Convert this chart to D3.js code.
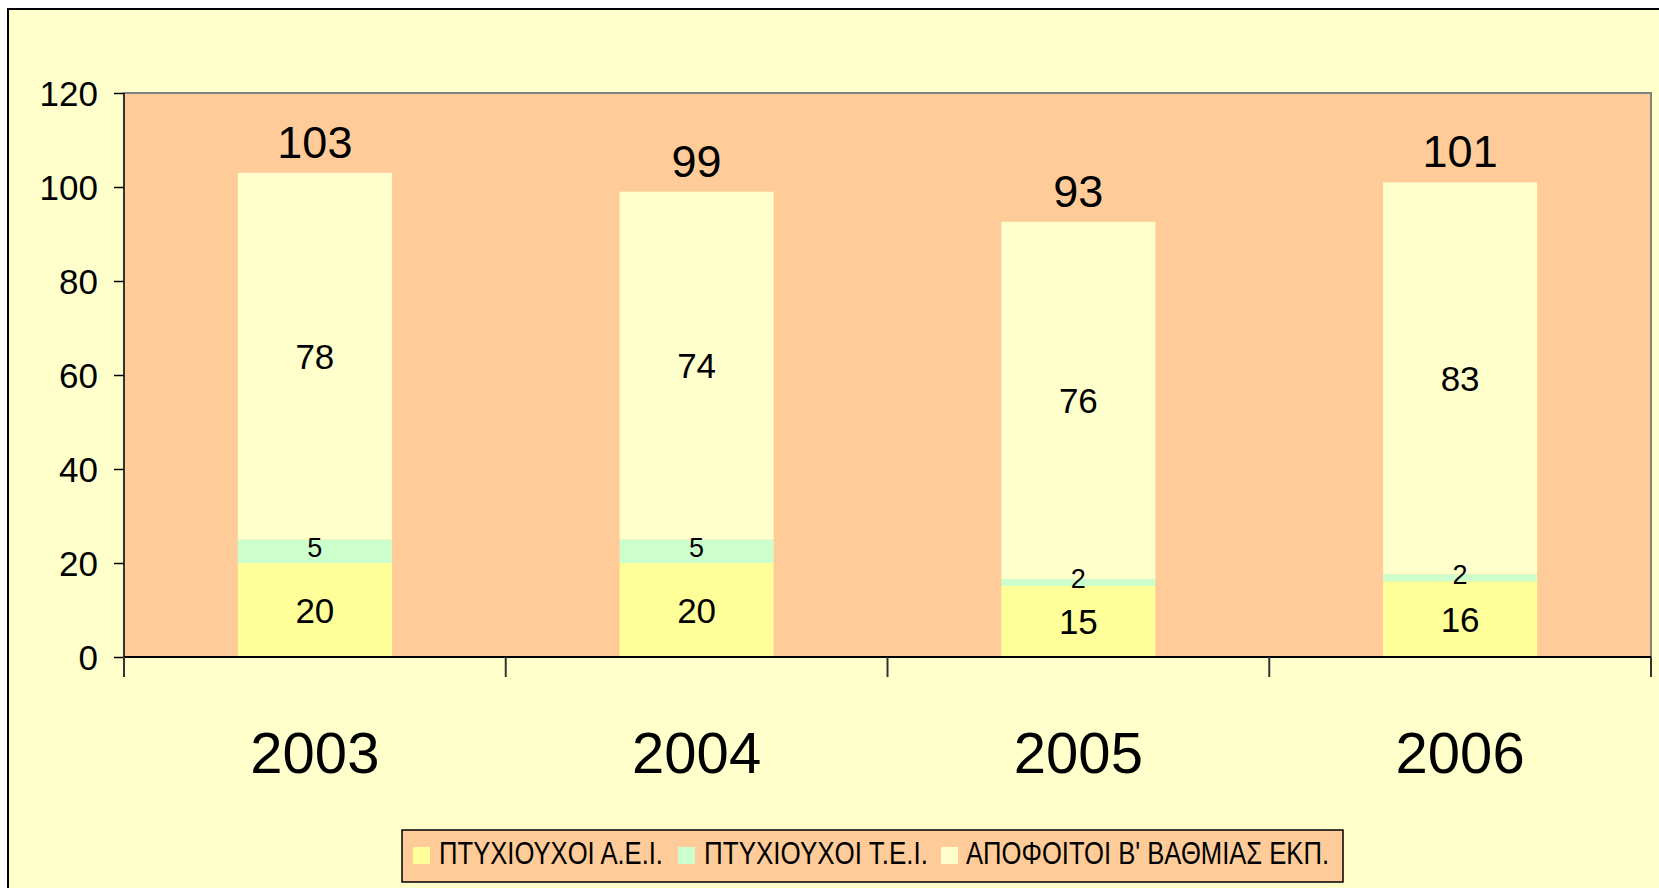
<!DOCTYPE html>
<html>
<head>
<meta charset="utf-8">
<script src="https://cdn.jsdelivr.net/npm/d3@7"></script>
<style>
  html, body { margin: 0; padding: 0; background: #ffffff; }
  svg { display: block; }
  text { font-family: Arial, "Liberation Sans", sans-serif; fill: #000; }
</style>
</head>
<body>
<svg id="chart" width="1659" height="888"></svg>
<script>
const years = ["2003", "2004", "2005", "2006"];
const aei = [20, 20, 15.1, 16.1];   // ΠΤΥΧΙΟΥΧΟΙ Α.Ε.Ι.
const tei = [5, 5, 1.5, 1.5];       // ΠΤΥΧΙΟΥΧΟΙ Τ.Ε.Ι.
const apo = [78, 74, 76, 83.4];     // ΑΠΟΦΟΙΤΟΙ Β' ΒΑΘΜΙΑΣ ΕΚΠ.
const seriesNames = ["ΠΤΥΧΙΟΥΧΟΙ Α.Ε.Ι.", "ΠΤΥΧΙΟΥΧΟΙ Τ.Ε.Ι.", "ΑΠΟΦΟΙΤΟΙ Β' ΒΑΘΜΙΑΣ ΕΚΠ."];
const seriesColors = ["#FFFF99", "#CCFFCC", "#FFFFCC"];
const yTicks = [0, 20, 40, 60, 80, 100, 120];

const svg = d3.select("#chart");
const fmt = d3.format(".0f");

// outer chart area
svg.append("rect").attr("x", 8).attr("y", 9).attr("width", 1700).attr("height", 900)
  .attr("fill", "#FFFFCC").attr("stroke", "#000").attr("stroke-width", 2);

const plot = { left: 124, right: 1651, top: 93, bottom: 657 };

const x = d3.scaleBand().domain(years).range([plot.left, plot.right])
  .paddingInner(0.5966).paddingOuter(0.2983);
const xCat = d3.scaleBand().domain(years).range([plot.left, plot.right]);
const y = d3.scaleLinear().domain([0, 120]).range([plot.bottom, plot.top]);

// plot background
svg.append("rect").attr("x", plot.left).attr("y", plot.top)
  .attr("width", plot.right - plot.left).attr("height", plot.bottom - plot.top)
  .attr("fill", "#FFCC99").attr("stroke", "#808080").attr("stroke-width", 2);

// stacked data
const table = years.map((yr, i) => ({ year: yr, s0: aei[i], s1: tei[i], s2: apo[i] }));
const stack = d3.stack().keys(["s0", "s1", "s2"])(table);

stack.forEach((layer, li) => {
  const g = svg.append("g");
  g.selectAll("rect").data(layer).join("rect")
    .attr("x", d => x(d.data.year))
    .attr("width", x.bandwidth())
    .attr("y", d => y(d[1]))
    .attr("height", d => y(d[0]) - y(d[1]))
    .attr("fill", seriesColors[li]);
});

// segment labels
stack.forEach((layer, li) => {
  svg.append("g").selectAll("text").data(layer).join("text")
    .attr("x", d => x(d.data.year) + x.bandwidth() / 2)
    .attr("y", d => (y(d[0]) + y(d[1])) / 2)
    .attr("dy", li === 1 ? "0.22em" : "0.36em")
    .attr("text-anchor", "middle")
    .attr("font-size", li === 1 ? 27 : 35)
    .text(d => fmt(d[1] - d[0]));
});

// totals
svg.append("g").selectAll("text").data(table).join("text")
  .attr("x", d => x(d.year) + x.bandwidth() / 2)
  .attr("y", d => y(d.s0 + d.s1 + d.s2) - 15)
  .attr("text-anchor", "middle")
  .attr("font-size", 45)
  .text(d => fmt(d.s0 + d.s1 + d.s2));

// y axis
const yAxis = d3.axisLeft(y).tickValues(yTicks).tickSize(10).tickPadding(16);
const gy = svg.append("g").attr("transform", `translate(${plot.left},0)`).call(yAxis);
gy.select(".domain").attr("stroke", "#333").attr("stroke-width", 2)
  .attr("d", `M0,${plot.top}V${plot.bottom + 20}`);
gy.selectAll(".tick line").attr("stroke", "#000").attr("stroke-width", 1.5);
gy.selectAll(".tick text").attr("font-size", 35).attr("font-family", "Arial, 'Liberation Sans', sans-serif")
  .attr("fill", "#000").attr("dy", "0.35em");

// x axis
const gx = svg.append("g").attr("transform", `translate(0,${plot.bottom})`);
gx.append("line").attr("x1", plot.left).attr("x2", plot.right).attr("y1", 0).attr("y2", 0)
  .attr("stroke", "#000").attr("stroke-width", 2);
const boundaries = years.map(d => xCat(d)).concat([xCat(years[years.length - 1]) + xCat.bandwidth()]);
gx.selectAll("line.tk").data(boundaries).join("line").attr("class", "tk")
  .attr("x1", d => d).attr("x2", d => d).attr("y1", 0).attr("y2", 20)
  .attr("stroke", "#333").attr("stroke-width", 2);
gx.selectAll("text").data(years).join("text")
  .attr("x", d => xCat(d) + xCat.bandwidth() / 2)
  .attr("y", 116)
  .attr("text-anchor", "middle")
  .attr("font-size", 58)
  .text(d => d);

// legend
const lg = svg.append("g");
lg.append("rect").attr("x", 402).attr("y", 830).attr("width", 941).attr("height", 52)
  .attr("fill", "#FFCC99").attr("stroke", "#000").attr("stroke-width", 1.5);
const legendItems = [
  { sx: 413, tx: 439, tw: 224 },
  { sx: 678, tx: 704, tw: 224 },
  { sx: 941, tx: 966, tw: 363 }
];
legendItems.forEach((it, i) => {
  lg.append("rect").attr("x", it.sx).attr("y", 847).attr("width", 17).attr("height", 17)
    .attr("fill", seriesColors[i]);
  lg.append("text").attr("x", it.tx).attr("y", 864)
    .attr("font-size", 31)
    .attr("textLength", it.tw).attr("lengthAdjust", "spacingAndGlyphs")
    .text(seriesNames[i]);
});
</script>
</body>
</html>
